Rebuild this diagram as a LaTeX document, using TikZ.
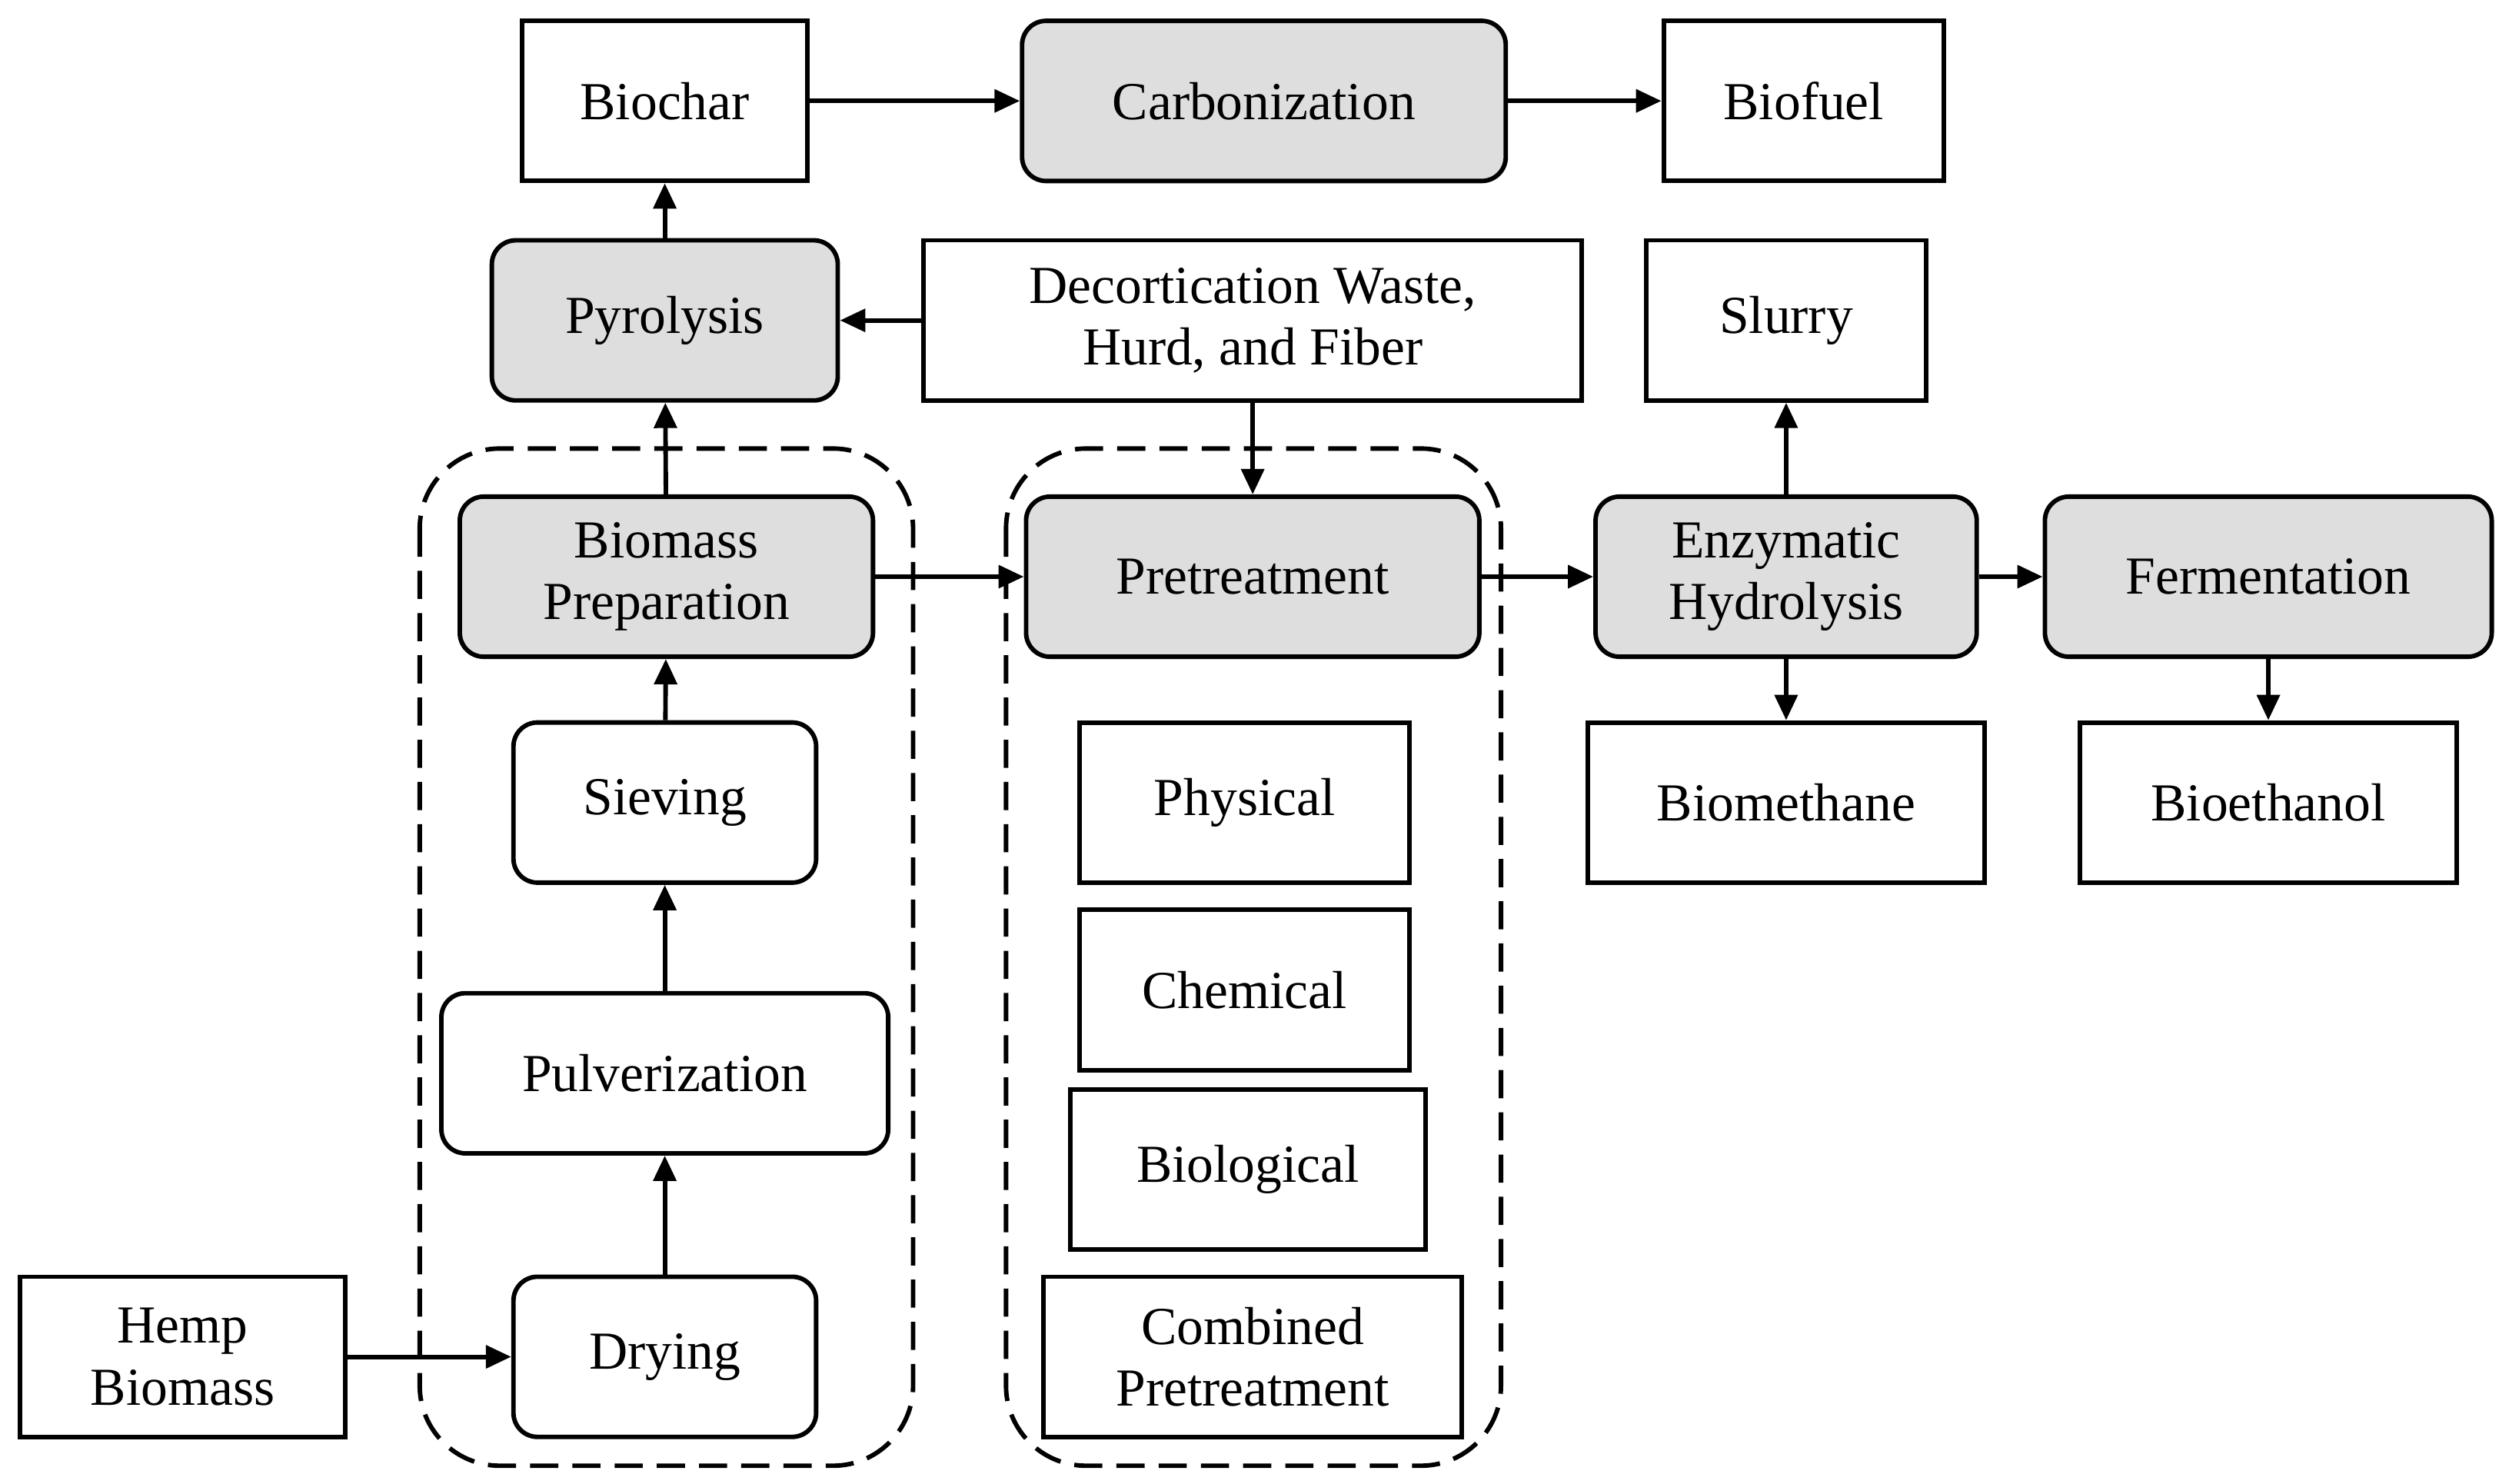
\documentclass[tikz,border=0pt]{standalone}
\usepackage{fontspec}
\setmainfont{Liberation Serif}
\usetikzlibrary{arrows.meta}
\begin{document}
\begin{tikzpicture}[x=0.02cm,y=-0.02cm,line width=1.6pt,
    every node/.style={font=\fontsize{19}{22}\selectfont,align=center,inner sep=0pt},
    >={Triangle[length=9pt,width=8pt]}]
    \tikzstyle{plain box}=[draw,minimum height=2cm]
    \tikzstyle{step box}=[draw,rounded corners=0.3cm,minimum height=2cm]
    \tikzstyle{main box}=[step box,fill=black!13]
    \tikzstyle{group}=[draw,dashed,dash pattern=on 10pt off 5pt,rounded corners=1cm]
    \useasboundingbox (0,0) rectangle (1560,926);
    % dashed groups
    \draw[group] (262,280) rectangle (570,915);
    \draw[group] (628,280) rectangle (937,915);
    % top row
    \node[plain box,minimum width=3.56cm] (biochar) at (415,63) {Biochar};
    \node[main box,minimum width=6.04cm] (carbon) at (789,63) {Carbonization};
    \node[plain box,minimum width=3.5cm] (biofuel) at (1126,63) {Biofuel};
    % second row
    \node[main box,minimum width=4.32cm] (pyro) at (415,200) {Pyrolysis};
    \node[plain box,minimum width=8.22cm] (waste) at (782,200) {Decortication Waste,\\Hurd, and Fiber};
    \node[plain box,minimum width=3.5cm] (slurry) at (1115,200) {Slurry};
    % main row
    \node[main box,minimum width=5.16cm] (prep) at (416,360) {Biomass\\Preparation};
    \node[main box,minimum width=5.66cm] (pretreat) at (782,360) {Pretreatment};
    \node[main box,minimum width=4.76cm] (hydro) at (1115,360) {Enzymatic\\Hydrolysis};
    \node[main box,minimum width=5.58cm] (ferm) at (1416,360) {Fermentation};
    % lower rows
    \node[step box,minimum width=3.78cm] (sieve) at (415,501) {Sieving};
    \node[plain box,minimum width=4.12cm] (phys) at (777,501) {Physical};
    \node[plain box,minimum width=4.96cm] (methane) at (1115,501) {Biomethane};
    \node[plain box,minimum width=4.7cm] (ethanol) at (1416,501) {Bioethanol};
    \node[plain box,minimum width=4.12cm] (chem) at (777,618) {Chemical};
    \node[step box,minimum width=5.58cm] (pulv) at (415,670) {Pulverization};
    \node[plain box,minimum width=4.44cm] (bio) at (779,730) {Biological};
    \node[plain box,minimum width=4.06cm] (hemp) at (114,847) {Hemp\\Biomass};
    \node[step box,minimum width=3.78cm] (dry) at (415,847) {Drying};
    \node[plain box,minimum width=5.22cm] (comb) at (782,847) {Combined\\Pretreatment};
    % connectors
    \draw[->] (biochar) -- (carbon);
    \draw[->] (carbon) -- (biofuel);
    \draw[->] (pyro) -- (biochar);
    \draw[->] (waste) -- (pyro);
    \draw[->] (waste) -- (pretreat);
    \draw[->] (prep) -- (pyro);
    \draw[->] (prep) -- (pretreat);
    \draw[->] (pretreat) -- (hydro);
    \draw[->] (hydro) -- (slurry);
    \draw[->] (hydro) -- (methane);
    \draw[->] (hydro) -- (ferm);
    \draw[->] (ferm) -- (ethanol);
    \draw[->] (sieve) -- (prep);
    \draw[->] (pulv) -- (sieve);
    \draw[->] (dry) -- (pulv);
    \draw[->] (hemp) -- (dry);
\end{tikzpicture}
\end{document}
